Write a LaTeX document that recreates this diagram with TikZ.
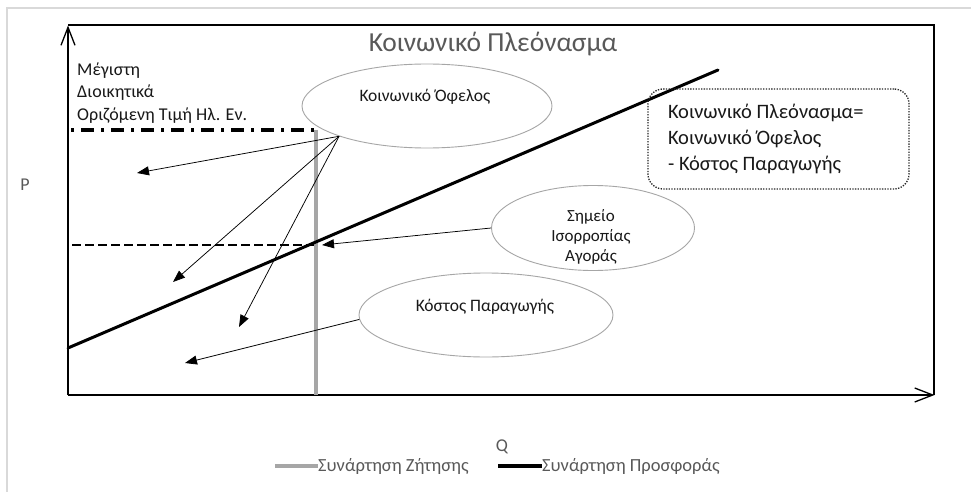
\documentclass[tikz,border=0pt]{standalone}
\usepackage{fontspec}
\setmainfont{Carlito}
\usetikzlibrary{shapes.geometric,arrows.meta}
\definecolor{framegray}{HTML}{D9D9D9}
\definecolor{txtgray}{HTML}{595959}
\definecolor{ellgray}{HTML}{A6A6A6}
\definecolor{demandgray}{HTML}{A6A6A6}
\begin{document}
\begin{tikzpicture}[x=1pt,y=-1pt,
  axisline/.style={line width=1.3pt},
  axistip/.style={-{Straight Barb[length=18pt,width=14pt,line width=1.3pt]}},
  supplyline/.style={line width=3pt,line cap=round},
  demandline/.style={demandgray,line width=3.6pt},
  ell/.style={ellipse,draw=ellgray,line width=0.9pt,inner sep=0pt},
  lbl/.style={inner sep=0pt,font=\fontsize{17.5}{20}\selectfont,text=black!90},
  ptr/.style={line width=0.75pt,-{Triangle[length=12pt,width=9pt]}},
  sbox/.style={draw=black!85,line width=1.3pt,dash pattern=on 1.3pt off 1.4pt,rounded corners=15pt,inner sep=0pt},
  graytxt/.style={inner sep=0pt,text=txtgray}]
\useasboundingbox (0,0) rectangle (971,492);
\fill[white] (0,0) rectangle (971,492);
% outer frame
\draw[framegray,line width=1.5pt] (7,492) -- (7,8) -- (971,8);
% plot box
\draw[axisline] (68,25) -- (934,25) -- (934,395);
\draw[axisline,axistip] (68,395) -- (68,25.5);
\draw[axisline,axistip] (68,395) -- (934.5,395);
% title
\node[graytxt,font=\fontsize{27.5}{30}\selectfont] (title) at (493,44) {Κοινωνικό Πλεόνασμα};
% left label
\node[lbl,align=left,anchor=west,font=\fontsize{18}{22.5}\selectfont] (maxp) at (77,93) {Μέγιστη\\Διοικητικά\\Οριζόμενη Τιμή Ηλ. Εν.};
% P and Q
\node[graytxt,font=\fontsize{18}{20}\selectfont] (plab) at (25,185) {P};
\node[graytxt,font=\fontsize{18}{20}\selectfont] (qlab) at (502,447) {Q};
% price lines
\draw[line width=3pt,dash pattern=on 3pt off 7pt on 13pt off 7pt] (71,130) -- (316,130);
\draw[line width=2.6pt,dash pattern=on 9pt off 4pt] (72,245) -- (316,245);
% demand and supply
\draw[demandline] (316,130) -- (316,395);
\draw[supplyline] (68,348) -- (718,70);
% ellipses
\node[ell,minimum width=250pt,minimum height=84pt] (ob) at (427,106) {};
\node[lbl] (obt) at (425,97) {Κοινωνικό Όφελος};
\node[ell,minimum width=203pt,minimum height=85pt] (se) at (593,228) {};
\node[lbl,align=center,font=\fontsize{17}{20}\selectfont] (set) at (591,237) {Σημείο\\Ισορροπίας\\Αγοράς};
\node[ell,minimum width=254pt,minimum height=84pt] (ke) at (486,315) {};
\node[lbl] (ket) at (485,307) {Κόστος Παραγωγής};
% surplus box
\node[sbox,minimum width=261pt,minimum height=100pt] (sp) at (778.5,139) {};
\node[lbl,align=left,anchor=west,font=\fontsize{20.5}{26}\selectfont] (spt) at (668,139) {Κοινωνικό Πλεόνασμα=\\Κοινωνικό Όφελος\\- Κόστος Παραγωγής};
% arrows
\coordinate (a1) at (137,173);
\coordinate (a2) at (173,282);
\coordinate (a3) at (239,327);
\coordinate (a4) at (322,245);
\coordinate (a5) at (185,363);
\draw[ptr] (ob.199) -- (a1);
\draw[ptr] (ob.199) -- (a2);
\draw[ptr] (ob.199) -- (a3);
\draw[ptr] (se.west) -- (a4);
\draw[ptr] (ke.182) -- (a5);
% legend
\draw[demandline,line width=3.4pt] (275,466) -- (318,466);
\node[graytxt,anchor=west,font=\fontsize{18.5}{20}\selectfont] (lz) at (318,466) {Συνάρτηση Ζήτησης};
\draw[line width=3.4pt] (498,466) -- (542,466);
\node[graytxt,anchor=west,font=\fontsize{18.5}{20}\selectfont] (lp) at (542,466) {Συνάρτηση Προσφοράς};
\end{tikzpicture}
\end{document}
